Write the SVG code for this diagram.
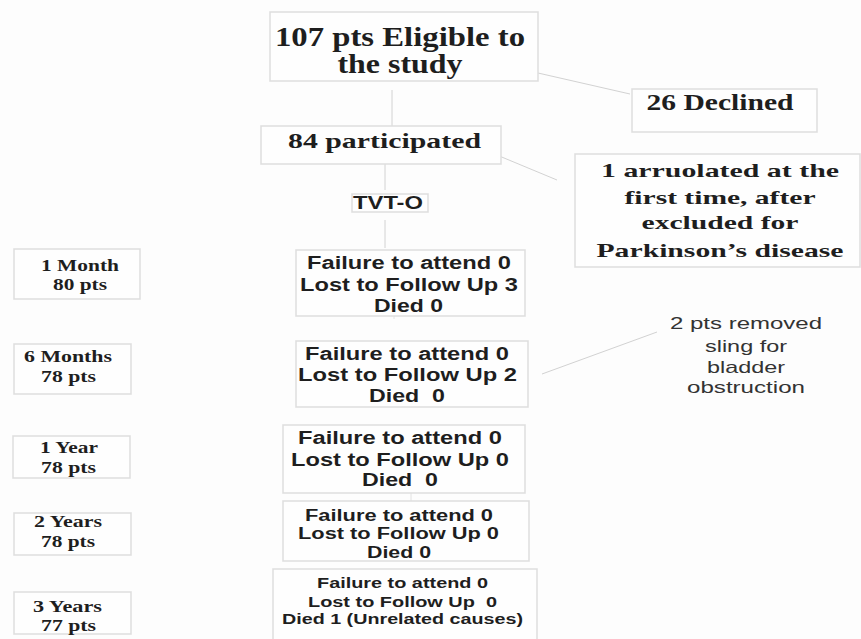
<svg xmlns="http://www.w3.org/2000/svg" width="861" height="639" viewBox="0 0 861 639">
<style>
.box{fill:#fefefe;stroke:#dedede;stroke-width:1.5}
.serif{font-family:"Liberation Serif","Times New Roman",serif;font-weight:bold;fill:#1e1e1e;text-anchor:middle}
.sans{font-family:"Liberation Sans",Arial,sans-serif;font-weight:bold;fill:#1e1e1e;text-anchor:middle}
.note{font-family:"Liberation Sans",Arial,sans-serif;fill:#333;text-anchor:middle;font-size:16.5px}
.conn{stroke:#d2d2d2;stroke-width:1;fill:none}
.faint{stroke:#e2e2e2;stroke-width:1;fill:none}
</style>
<rect width="861" height="639" fill="#fdfdfd"/>
<g id="connectors">
<line class="conn" x1="392" y1="90" x2="392" y2="126"/>
<line class="conn" x1="538" y1="73" x2="630" y2="94"/>
<line class="conn" x1="385" y1="160" x2="385" y2="190"/>
<line class="conn" x1="385" y1="220" x2="385" y2="248"/>
<line class="conn" x1="480" y1="148" x2="557" y2="180"/>
<line class="conn" x1="542" y1="374" x2="657" y2="332"/>
<line class="faint" x1="394" y1="315" x2="394" y2="319"/>
<line class="faint" x1="404" y1="425" x2="404" y2="440"/>
<line class="faint" x1="411" y1="493" x2="411" y2="502"/>
</g>
<g id="eligible">
<rect class="box" x="270" y="12" width="268" height="69"/>
<text class="serif" font-size="27" x="400" y="46" textLength="250" lengthAdjust="spacingAndGlyphs">107 pts Eligible to</text>
<text class="serif" font-size="27" x="400" y="73" textLength="125" lengthAdjust="spacingAndGlyphs">the study</text>
</g>
<g id="declined">
<rect class="box" x="632" y="89" width="185" height="43"/>
<text class="serif" font-size="23.5" x="720" y="110" textLength="147" lengthAdjust="spacingAndGlyphs">26 Declined</text>
</g>
<g id="participated">
<rect class="box" x="261" y="126" width="240" height="38"/>
<text class="serif" font-size="21.5" x="384.5" y="148" textLength="193" lengthAdjust="spacingAndGlyphs">84 participated</text>
</g>
<g id="excluded">
<rect class="box" x="575" y="154" width="285" height="113"/>
<text class="serif" font-size="19.5" x="720" y="177" textLength="238" lengthAdjust="spacingAndGlyphs">1 arruolated at the</text>
<text class="serif" font-size="19.5" x="720" y="204" textLength="191" lengthAdjust="spacingAndGlyphs">first time, after</text>
<text class="serif" font-size="19.5" x="720" y="229" textLength="157" lengthAdjust="spacingAndGlyphs">excluded for</text>
<text class="serif" font-size="19.5" x="720" y="257" textLength="247" lengthAdjust="spacingAndGlyphs">Parkinson’s disease</text>
</g>
<g id="tvto">
<rect class="box" x="352" y="194" width="76" height="18"/>
<text class="sans" font-size="17.5" x="388" y="209" textLength="70" lengthAdjust="spacingAndGlyphs">TVT-O</text>
</g>
<g id="m1">
<rect class="box" x="14" y="249" width="126" height="50"/>
<text class="serif" font-size="17.5" x="80" y="271" textLength="78" lengthAdjust="spacingAndGlyphs">1 Month</text>
<text class="serif" font-size="17.5" x="80" y="290" textLength="54" lengthAdjust="spacingAndGlyphs">80 pts</text>
</g>
<g id="m6">
<rect class="box" x="14" y="344" width="117" height="50"/>
<text class="serif" font-size="17.5" x="68" y="362" textLength="88" lengthAdjust="spacingAndGlyphs">6 Months</text>
<text class="serif" font-size="17.5" x="68.5" y="382" textLength="55" lengthAdjust="spacingAndGlyphs">78 pts</text>
</g>
<g id="y1">
<rect class="box" x="13" y="436" width="117" height="42"/>
<text class="serif" font-size="17.5" x="69" y="453" textLength="58" lengthAdjust="spacingAndGlyphs">1 Year</text>
<text class="serif" font-size="17.5" x="68.5" y="473" textLength="55" lengthAdjust="spacingAndGlyphs">78 pts</text>
</g>
<g id="y2">
<rect class="box" x="14" y="513" width="117" height="42"/>
<text class="serif" font-size="17.5" x="68" y="527" textLength="68" lengthAdjust="spacingAndGlyphs">2 Years</text>
<text class="serif" font-size="17.5" x="68" y="547" textLength="54" lengthAdjust="spacingAndGlyphs">78 pts</text>
</g>
<g id="y3">
<rect class="box" x="14" y="592" width="117" height="42"/>
<text class="serif" font-size="17.5" x="67.5" y="612" textLength="69" lengthAdjust="spacingAndGlyphs">3 Years</text>
<text class="serif" font-size="17.5" x="68.5" y="631" textLength="55" lengthAdjust="spacingAndGlyphs">77 pts</text>
</g>
<g id="f1">
<rect class="box" x="296" y="250" width="229" height="66"/>
<text class="sans" font-size="18" x="409" y="269" textLength="204" lengthAdjust="spacingAndGlyphs">Failure to attend 0</text>
<text class="sans" font-size="18" x="409" y="291" textLength="218" lengthAdjust="spacingAndGlyphs">Lost to Follow Up 3</text>
<text class="sans" font-size="18" x="408.5" y="312" textLength="69" lengthAdjust="spacingAndGlyphs">Died 0</text>
</g>
<g id="f2">
<rect class="box" x="296" y="341" width="232" height="66"/>
<text class="sans" font-size="18" x="407" y="360" textLength="204" lengthAdjust="spacingAndGlyphs">Failure to attend 0</text>
<text class="sans" font-size="18" x="407.5" y="381" textLength="219" lengthAdjust="spacingAndGlyphs">Lost to Follow Up 2</text>
<text class="sans" font-size="18" x="407" y="402" textLength="76" lengthAdjust="spacingAndGlyphs" xml:space="preserve">Died  0</text>
</g>
<g id="f3">
<rect class="box" x="283" y="425" width="242" height="68"/>
<text class="sans" font-size="18" x="400" y="444" textLength="204" lengthAdjust="spacingAndGlyphs">Failure to attend 0</text>
<text class="sans" font-size="18" x="400" y="466" textLength="218" lengthAdjust="spacingAndGlyphs">Lost to Follow Up 0</text>
<text class="sans" font-size="18" x="400" y="486" textLength="76" lengthAdjust="spacingAndGlyphs" xml:space="preserve">Died  0</text>
</g>
<g id="f4">
<rect class="box" x="283" y="501" width="246" height="60"/>
<text class="sans" font-size="16" x="399" y="521" textLength="188" lengthAdjust="spacingAndGlyphs">Failure to attend 0</text>
<text class="sans" font-size="16" x="398.5" y="539" textLength="201" lengthAdjust="spacingAndGlyphs">Lost to Follow Up 0</text>
<text class="sans" font-size="16" x="399" y="558" textLength="64" lengthAdjust="spacingAndGlyphs">Died 0</text>
</g>
<g id="f5">
<rect class="box" x="273" y="569" width="264" height="72"/>
<text class="sans" font-size="14.5" x="402.5" y="588" textLength="171" lengthAdjust="spacingAndGlyphs">Failure to attend 0</text>
<text class="sans" font-size="14.5" x="402.5" y="607" textLength="189" lengthAdjust="spacingAndGlyphs" xml:space="preserve">Lost to Follow Up  0</text>
<text class="sans" font-size="14.5" x="402.5" y="624" textLength="241" lengthAdjust="spacingAndGlyphs">Died 1 (Unrelated causes)</text>
</g>
<g id="removed">
<text class="note" x="746" y="329" textLength="152" lengthAdjust="spacingAndGlyphs">2 pts removed</text>
<text class="note" x="746" y="352" textLength="82" lengthAdjust="spacingAndGlyphs">sling for</text>
<text class="note" x="746" y="373" textLength="78" lengthAdjust="spacingAndGlyphs">bladder</text>
<text class="note" x="746" y="393" textLength="118" lengthAdjust="spacingAndGlyphs">obstruction</text>
</g>
</svg>
